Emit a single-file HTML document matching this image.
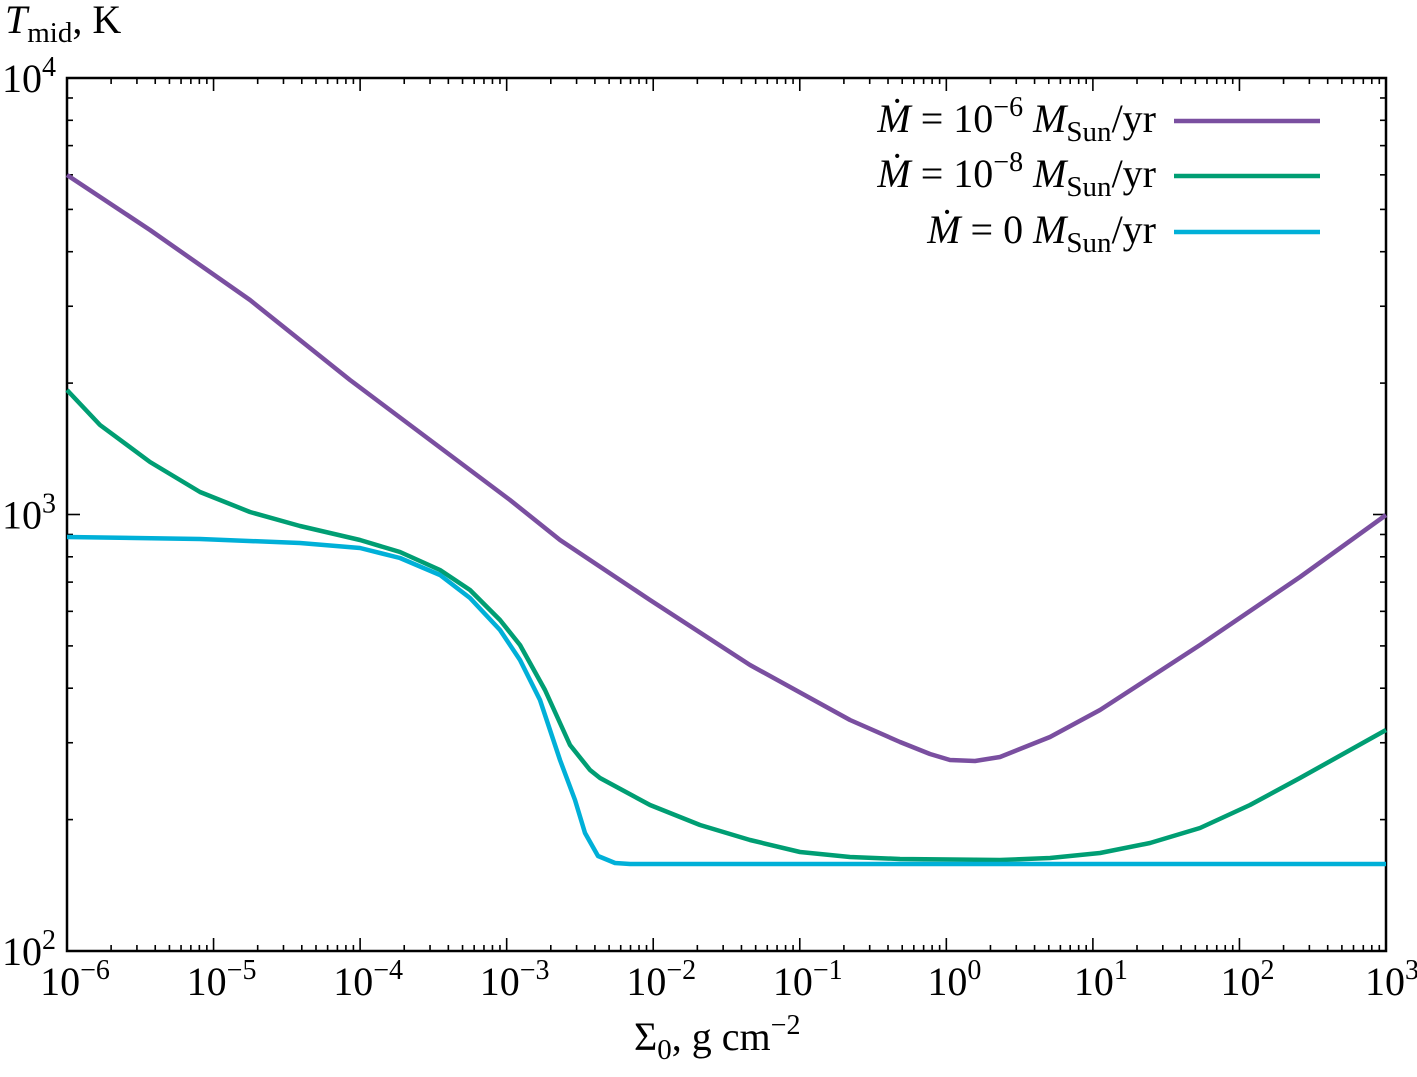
<!DOCTYPE html>
<html><head><meta charset="utf-8"><style>
body{margin:0;background:#fff}
svg text{font-family:"Liberation Serif",serif;fill:#000}
</style></head><body>
<svg id="s" width="1417" height="1072" xmlns="http://www.w3.org/2000/svg">
<rect x="67" y="78" width="1319" height="873" fill="none" stroke="#000" stroke-width="2.5"/>
<g id="ticks" stroke="#000" stroke-width="1.6"></g>
<g fill="none" stroke-width="4.5" stroke-linejoin="round">
<polyline stroke="#7a4fa0" points="67,175 150,230 250,300 350,380 450,455 510,500 560,540 650,600 750,665 850,720 900,742 930,754 950,760 975,761 1000,757 1050,737 1100,710 1200,645 1300,577 1386,515"/>
<polyline stroke="#009e73" points="67,390 100,425 150,462 200,492 250,512 300,526 360,540 400,552 440,570 470,590 500,620 520,645 545,690 570,745 590,770 600,778 650,805 700,825 750,840 800,852 850,857 900,859 1000,860 1050,858 1100,853 1150,843 1200,828 1250,805 1300,778 1386,730"/>
<polyline stroke="#00b0d8" points="67,537 200,539 300,543 360,548 400,558 440,575 470,598 500,630 520,660 540,700 560,760 575,800 585,833 598,856 615,863 630,864 1386,864"/>
<line x1="1174" y1="121" x2="1320" y2="121" stroke="#7a4fa0"/>
<line x1="1174" y1="176" x2="1320" y2="176" stroke="#009e73"/>
<line x1="1174" y1="232" x2="1320" y2="232" stroke="#00b0d8"/>
</g>
<g font-size="40" text-anchor="end">
<text x="1156" y="132"><tspan font-style="italic">Ṁ</tspan> = 10<tspan dy="-16" font-size="28">−6</tspan><tspan dy="16"> </tspan><tspan font-style="italic">M</tspan><tspan dy="9" font-size="29">Sun</tspan><tspan dy="-9">/yr</tspan></text>
<text x="1156" y="187"><tspan font-style="italic">Ṁ</tspan> = 10<tspan dy="-16" font-size="28">−8</tspan><tspan dy="16"> </tspan><tspan font-style="italic">M</tspan><tspan dy="9" font-size="29">Sun</tspan><tspan dy="-9">/yr</tspan></text>
<text x="1156" y="243"><tspan font-style="italic">Ṁ</tspan> = 0 <tspan font-style="italic">M</tspan><tspan dy="9" font-size="29">Sun</tspan><tspan dy="-9">/yr</tspan></text>
</g>
<g font-size="40" id="lab"></g>
<text x="5" y="33" font-size="40"><tspan font-style="italic">T</tspan><tspan dy="9" font-size="29">mid</tspan><tspan dy="-9">, K</tspan></text>
<text x="634" y="1050" font-size="40">Σ<tspan dy="9" font-size="29">0</tspan><tspan dy="-9">, g cm</tspan><tspan dy="-16" font-size="28">−2</tspan></text>
</svg>
<script>
var t=document.getElementById('ticks'),l=document.getElementById('lab'),NS="http://www.w3.org/2000/svg";
function ln(a,b,c,d){var e=document.createElementNS(NS,'line');e.setAttribute('x1',a);e.setAttribute('y1',b);e.setAttribute('x2',c);e.setAttribute('y2',d);t.appendChild(e);}
function tx(x,y,e,anc){var q=document.createElementNS(NS,'text');q.setAttribute('x',x);q.setAttribute('y',y);q.setAttribute('text-anchor',anc);q.innerHTML='10<tspan dy="-16" font-size="28">'+e+'</tspan>';l.appendChild(q);}
var dx=1319/9,dy=873/2;
for(var i=0;i<=9;i++){var x=67+i*dx;ln(x,951,x,938);ln(x,78,x,91);
 var e=i-6;tx(x+8+(i==9?-2:0),995,e<0?'−'+(-e):e,'middle');
 if(i<9)for(var k=2;k<10;k++){var xx=x+Math.log10(k)*dx;ln(xx,951,xx,945);ln(xx,78,xx,84);}}
for(var j=0;j<=2;j++){var y=951-j*dy;ln(67,y,80,y);ln(1386,y,1373,y);
 tx(56,y+14,j+2,'end');
 if(j<2)for(var k=2;k<10;k++){var yy=y-Math.log10(k)*dy;ln(67,yy,73,yy);ln(1386,yy,1380,yy);}}
</script>
</body></html>
